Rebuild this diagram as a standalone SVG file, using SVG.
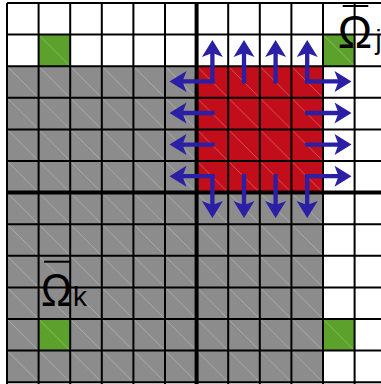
<svg xmlns="http://www.w3.org/2000/svg" width="381" height="384" viewBox="0 0 381 384">
<style>
.g{stroke:#000;stroke-width:2;fill:none}
.tk{stroke:#000;stroke-width:4;fill:none}
.ar{stroke:#2b1fa6;stroke-width:4.3;fill:none;stroke-linecap:square;marker-end:url(#ah)}
.lb{font-family:"Liberation Sans",Arial,sans-serif;fill:#000}
.ov{stroke:#000;stroke-width:2}
.dg{stroke:#fff;stroke-opacity:0.32;stroke-width:0.9}
</style>
<defs>
<pattern id="pg" patternUnits="userSpaceOnUse" x="7" y="3" width="31.6" height="31.6"><rect width="31.6" height="31.6" fill="#8c8c8c"/><line class="dg" x1="0" y1="0" x2="31.6" y2="31.6"/></pattern>
<pattern id="pr" patternUnits="userSpaceOnUse" x="7" y="3" width="31.6" height="31.6"><rect width="31.6" height="31.6" fill="#c20e1a"/><line class="dg" x1="0" y1="0" x2="31.6" y2="31.6"/></pattern>
<pattern id="pn" patternUnits="userSpaceOnUse" x="7" y="3" width="31.6" height="31.6"><rect width="31.6" height="31.6" fill="#5ba12b"/><line class="dg" x1="0" y1="0" x2="31.6" y2="31.6"/></pattern>
<marker id="ah" markerUnits="userSpaceOnUse" markerWidth="30" markerHeight="30" refX="0" refY="0" orient="auto" overflow="visible"><path d="M8,0 L-9,-10.5 L-5,0 L-9,10.5 Z" fill="#2b1fa6"/></marker>
</defs>
<rect width="381" height="384" fill="#fff"/>
<g id="cells">
<rect id="gray-region" x="7" y="66.2" width="316" height="316" fill="url(#pg)"/>
<rect id="red-region" x="196.6" y="66.2" width="126.4" height="126.4" fill="url(#pr)"/>
<rect id="green-1" x="38.6" y="34.6" width="31.6" height="31.6" fill="url(#pn)"/>
<rect id="green-2" x="323" y="34.6" width="31.6" height="31.6" fill="url(#pn)"/>
<rect id="green-3" x="38.6" y="319" width="31.6" height="31.6" fill="url(#pn)"/>
<rect id="green-4" x="323" y="319" width="31.6" height="31.6" fill="url(#pn)"/>
</g>
<g id="grid">
<path class="g" d="M7,3V384 M38.6,3V384 M70.2,3V384 M101.8,3V384 M133.4,3V384 M165,3V384 M228.2,3V384 M259.8,3V384 M291.4,3V384 M323,3V384 M354.6,3V384"/>
<path class="g" d="M7,3H381 M7,34.6H381 M7,66.2H381 M7,97.8H381 M7,129.4H381 M7,161H381 M7,224.2H381 M7,255.8H381 M7,287.4H381 M7,319H381 M7,350.6H381 M7,382.2H381"/>
<path class="tk" d="M196.6,3V384 M7,192.6H381"/>
</g>
<g id="connectors">
<path class="ar" d="M212.4,81.4V48"/>
<path class="ar" d="M244,81.4V48"/>
<path class="ar" d="M275.6,81.4V48"/>
<path class="ar" d="M307.2,81.4V48"/>
<path class="ar" d="M212.4,176.2V210"/>
<path class="ar" d="M244,176.2V210"/>
<path class="ar" d="M275.6,176.2V210"/>
<path class="ar" d="M307.2,176.2V210"/>
<path class="ar" d="M212.4,81.4H177.5"/>
<path class="ar" d="M212.4,113H177.5"/>
<path class="ar" d="M212.4,144.6H177.5"/>
<path class="ar" d="M212.4,176.2H177.5"/>
<path class="ar" d="M307.2,81.4H343.5"/>
<path class="ar" d="M307.2,113H343.5"/>
<path class="ar" d="M307.2,144.6H343.5"/>
<path class="ar" d="M307.2,176.2H343.5"/>
</g>
<g id="label-omega-j">
<line class="ov" x1="342.7" y1="6" x2="368.3" y2="6"/>
<text class="lb" x="355" y="48" font-size="46" text-anchor="middle">Ω</text>
<text class="lb" x="375.5" y="49" font-size="27">j</text>
</g>
<g id="label-omega-k">
<line class="ov" x1="44" y1="261.7" x2="70.7" y2="261.7"/>
<text class="lb" x="56.5" y="306" font-size="46" text-anchor="middle" transform="translate(56.5 0) scale(0.9 1) translate(-56.5 0)">Ω</text>
<text class="lb" x="73" y="306" font-size="28">k</text>
</g>
</svg>
